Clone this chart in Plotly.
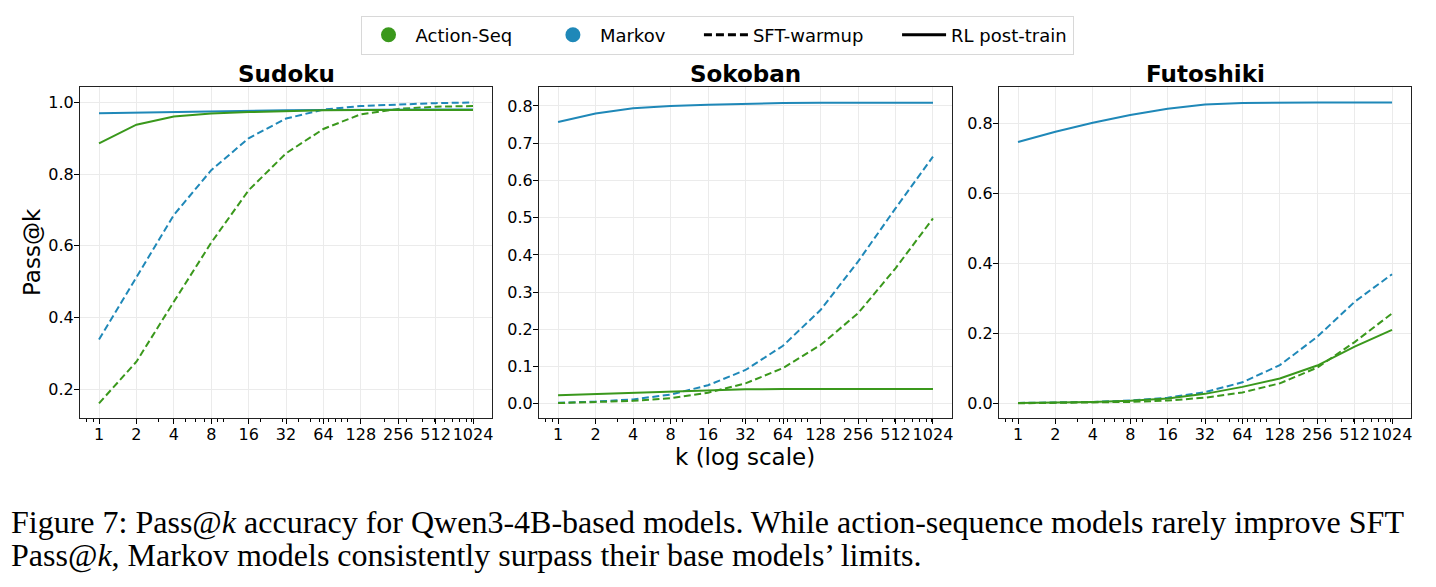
import plotly.graph_objects as go

k_values = [1, 2, 4, 8, 16, 32, 64, 128, 256, 512, 1024]
tick_labels = ["1", "2", "4", "8", "16", "32", "64", "128", "256", "512", "1024"]
tasks = ["Sudoku", "Sokoban", "Futoshiki"]

# Sudoku
sudoku_markov_rl = [0.970, 0.972, 0.974, 0.976, 0.977, 0.978, 0.979, 0.980, 0.980, 0.980, 0.980]
sudoku_action_rl = [0.886, 0.938, 0.961, 0.969, 0.973, 0.976, 0.978, 0.979, 0.979, 0.979, 0.979]
sudoku_markov_sft = [0.339, 0.514, 0.686, 0.811, 0.900, 0.955, 0.980, 0.990, 0.995, 0.998, 1.000]
sudoku_action_sft = [0.161, 0.277, 0.444, 0.609, 0.755, 0.858, 0.926, 0.967, 0.982, 0.988, 0.990]

# Sokoban
sokoban_markov_rl = [0.757, 0.780, 0.794, 0.800, 0.803, 0.806, 0.808, 0.809, 0.809, 0.809, 0.809]
sokoban_action_rl = [0.023, 0.026, 0.030, 0.034, 0.037, 0.039, 0.040, 0.040, 0.040, 0.040, 0.040]
sokoban_markov_sft = [0.003, 0.006, 0.012, 0.025, 0.050, 0.091, 0.156, 0.252, 0.382, 0.525, 0.664]
sokoban_action_sft = [0.002, 0.004, 0.008, 0.015, 0.030, 0.055, 0.096, 0.158, 0.243, 0.364, 0.498]

# Futoshiki
futoshiki_markov_rl = [0.747, 0.776, 0.802, 0.824, 0.842, 0.854, 0.858, 0.860, 0.860, 0.860, 0.860]
futoshiki_action_rl = [0.001, 0.002, 0.004, 0.007, 0.014, 0.027, 0.047, 0.071, 0.108, 0.162, 0.210]
futoshiki_markov_sft = [0.001, 0.002, 0.004, 0.008, 0.016, 0.032, 0.060, 0.109, 0.190, 0.290, 0.369]
futoshiki_action_sft = [0.000, 0.001, 0.002, 0.004, 0.008, 0.016, 0.031, 0.057, 0.102, 0.175, 0.257]

GREEN = "#3a981c"
BLUE = "#1f88b8"
DASH = "7px,3.5px"

W, H = 1436, 587
panels_px = [(80, 492), (539, 952), (999, 1411)]
top_px, bot_px = 87, 418
y_ranges = [[0.12, 1.043], [-0.038, 0.851], [-0.042, 0.904]]
y_ticks = [[0.2, 0.4, 0.6, 0.8, 1.0],
           [0.0, 0.1, 0.2, 0.3, 0.4, 0.5, 0.6, 0.7, 0.8],
           [0.0, 0.2, 0.4, 0.6, 0.8]]

data = [
    (sudoku_action_rl, sudoku_markov_rl, sudoku_action_sft, sudoku_markov_sft),
    (sokoban_action_rl, sokoban_markov_rl, sokoban_action_sft, sokoban_markov_sft),
    (futoshiki_action_rl, futoshiki_markov_rl, futoshiki_action_sft, futoshiki_markov_sft),
]

fig = go.Figure()
layout = {}
for i, (a_rl, m_rl, a_sft, m_sft) in enumerate(data):
    n = "" if i == 0 else str(i + 1)
    xa, ya = "x" + n, "y" + n
    for vals, col, dash in [(m_sft, BLUE, DASH), (a_sft, GREEN, DASH),
                            (m_rl, BLUE, "solid"), (a_rl, GREEN, "solid")]:
        fig.add_trace(go.Scatter(x=k_values, y=vals, mode="lines", xaxis=xa, yaxis=ya,
                                 line=dict(color=col, width=2, dash=dash),
                                 showlegend=False))
    x0, x1 = panels_px[i]
    layout["xaxis" + n] = dict(
        domain=[x0 / W, x1 / W], anchor=ya, type="log", range=[-0.153, 3.163],
        tickmode="array", tickvals=k_values, ticktext=tick_labels, tickangle=0,
        ticks="outside", ticklen=5, tickcolor="black", ticklabelstandoff=-3,
        showline=True, linecolor="#222", linewidth=1, mirror=True,
        showgrid=True, gridcolor="#ebebeb", gridwidth=1,
        minor=dict(ticks="outside", ticklen=3, tickcolor="black", dtick="D1", showgrid=False),
        tickfont=dict(family="DejaVu Sans", size=16, color="black"),
        zeroline=False,
    )
    layout["yaxis" + n] = dict(
        domain=[1 - bot_px / H, 1 - top_px / H], anchor=xa, range=y_ranges[i],
        tickmode="array", tickvals=y_ticks[i], ticktext=[f"{v:.1f}" for v in y_ticks[i]],
        ticks="outside", ticklen=5, tickcolor="black", ticklabelstandoff=-3,
        showline=True, linecolor="#222", linewidth=1, mirror=True,
        showgrid=True, gridcolor="#ebebeb", gridwidth=1,
        tickfont=dict(family="DejaVu Sans", size=16, color="black"),
        zeroline=False,
    )

PAD = "\u00a0" * 5
# legend dummy entries
fig.add_trace(go.Scatter(x=[None], y=[None], mode="markers", name="Action-Seq" + PAD,
                         marker=dict(color=GREEN, size=15), showlegend=True))
fig.add_trace(go.Scatter(x=[None], y=[None], mode="markers", name="Markov" + PAD,
                         marker=dict(color=BLUE, size=15), showlegend=True))
fig.add_trace(go.Scatter(x=[None], y=[None], mode="lines", name="SFT-warmup" + PAD,
                         line=dict(color="black", width=3, dash="8px,4px"), showlegend=True))
fig.add_trace(go.Scatter(x=[None], y=[None], mode="lines", name="RL post-train",
                         line=dict(color="black", width=3), showlegend=True))

annotations = []
for i, t in enumerate(tasks):
    x0, x1 = panels_px[i]
    annotations.append(dict(text=f"<b>{t}</b>", x=(x0 + x1) / 2 / W, y=1 - 74 / H,
                            xref="paper", yref="paper", showarrow=False,
                            font=dict(family="DejaVu Sans", size=23, color="black"),
                            xanchor="center", yanchor="middle"))
annotations.append(dict(text="Pass@k", x=32 / W, y=1 - 252 / H, xref="paper", yref="paper",
                        showarrow=False, textangle=-90,
                        font=dict(family="DejaVu Sans", size=23, color="black"),
                        xanchor="center", yanchor="middle"))
annotations.append(dict(text="k (log scale)", x=745 / W, y=1 - 457 / H, xref="paper", yref="paper",
                        showarrow=False, font=dict(family="DejaVu Sans", size=23, color="black"),
                        xanchor="center", yanchor="middle", borderpad=0))
annotations.append(dict(text="Figure 7: Pass@<i>k</i> accuracy for Qwen3-4B-based models. While action-sequence models rarely improve SFT",
                        x=9 / W, y=1 - 522 / H, xref="paper", yref="paper", showarrow=False,
                        font=dict(family="Liberation Serif", size=32, color="black"),
                        xanchor="left", yanchor="middle"))
annotations.append(dict(text="Pass@<i>k</i>, Markov models consistently surpass their base models\u2019 limits.",
                        x=9 / W, y=1 - 555 / H, xref="paper", yref="paper", showarrow=False,
                        font=dict(family="Liberation Serif", size=32, color="black"),
                        xanchor="left", yanchor="middle"))

fig.update_layout(
    width=W, height=H, margin=dict(l=0, r=0, t=0, b=0),
    paper_bgcolor="white", plot_bgcolor="white",
    showlegend=True,
    legend=dict(orientation="h", x=717 / W, y=1 - 35 / H, xanchor="center", yanchor="middle",
                bgcolor="white", bordercolor="#d8d8d8", borderwidth=1,
                font=dict(family="DejaVu Sans", size=18, color="black"),
                itemwidth=44, tracegroupgap=0),
    annotations=annotations,
    **layout,
)

fig.write_html("out.html")
